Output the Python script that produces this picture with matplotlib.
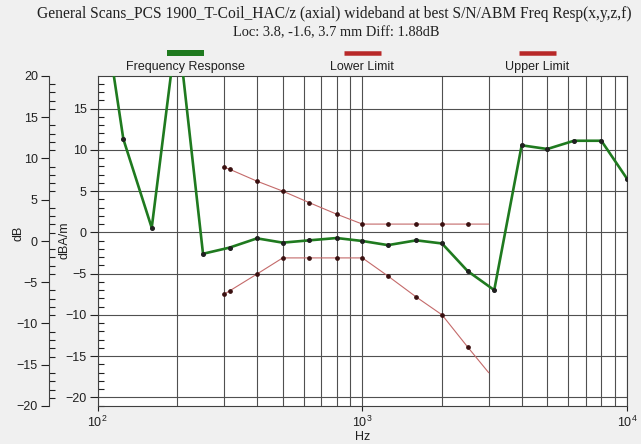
import matplotlib
matplotlib.use("Agg")
import matplotlib.pyplot as plt
from matplotlib.lines import Line2D
from matplotlib.ticker import MultipleLocator, LogLocator, FixedLocator, NullFormatter

plt.rcParams["font.family"] = ["Liberation Sans", "DejaVu Sans"]
plt.rcParams["mathtext.fontset"] = "custom"
plt.rcParams["mathtext.rm"] = "Liberation Sans"
plt.rcParams["mathtext.it"] = "Liberation Sans:italic"
plt.rcParams["mathtext.bf"] = "Liberation Sans:bold"

# ---- data ----
freqs = [100, 125, 160, 200, 250, 315, 400, 500, 630, 800, 1000, 1250, 1600,
         2000, 2500, 3150, 4000, 5000, 6300, 8000, 10000]
response = [32.0, 11.3, 0.55, 25.3, -2.6, -1.85, -0.73, -1.25, -0.97, -0.69, -1.05,
            -1.55, -0.97, -1.35, -4.7, -7.0, 10.55, 10.1, 11.1, 11.1, 6.5]

limit_freqs = [300, 315, 400, 500, 630, 800, 1000, 1250, 1600, 2000, 2500, 3000]
upper_limit = [7.9, 7.65, 6.2, 5.0, 3.6, 2.2, 1.0, 1.0, 1.0, 1.0, 1.0, 1.0]
lower_limit = [-7.5, -7.1, -5.05, -3.1, -3.1, -3.1, -3.1, -5.3, -7.85, -10.0, -13.9, -17.0]

legend_labels = ["Frequency Response", "Lower Limit", "Upper Limit"]
title = "General Scans_PCS 1900_T-Coil_HAC/z (axial) wideband at best S/N/ABM Freq Resp(x,y,z,f)"
subtitle = "Loc: 3.8, -1.6, 3.7 mm Diff: 1.88dB"

W, H = 641, 444
fig = plt.figure(figsize=(W / 100, H / 100), dpi=100)
fig.patch.set_facecolor("#f0f0f0")

L, R, T, B = 97.7, 627.0, 76.0, 406.0
ax = fig.add_axes([L / W, 1 - B / H, (R - L) / W, (B - T) / H])
ax.set_facecolor("white")

green = "#1f7a1f"
red_line = "#c46a6a"

ax.plot(freqs, response, color=green, lw=1.9, zorder=3,
        marker="o", ms=2.6, mfc="#202020", mec="#202020", solid_joinstyle="round")
mk = list(range(len(limit_freqs) - 1))
ax.plot(limit_freqs, upper_limit, color=red_line, lw=0.8, zorder=2,
        marker="o", ms=2.4, mfc="#3a1010", mec="#3a1010", markevery=mk)
ax.plot(limit_freqs, lower_limit, color=red_line, lw=0.8, zorder=2,
        marker="o", ms=2.4, mfc="#3a1010", mec="#3a1010", markevery=mk)

ax.set_xscale("log")
ax.set_xlim(100, 10000)
ax.set_ylim(-21.05, 18.95)

grid_c = "#505050"
ax.xaxis.set_major_locator(FixedLocator([100, 1000, 10000]))
ax.xaxis.set_minor_locator(LogLocator(base=10, subs=range(2, 10)))
ax.xaxis.set_minor_formatter(NullFormatter())
ax.grid(True, which="both", axis="x", color=grid_c, lw=0.8)
ax.yaxis.set_major_locator(MultipleLocator(5))
ax.yaxis.set_minor_locator(MultipleLocator(1))
ax.grid(True, which="major", axis="y", color=grid_c, lw=0.8)
ax.set_axisbelow(True)

fs = 9
ax.tick_params(axis="x", which="major", length=3.5, width=0.8, direction="out",
               labelsize=fs, pad=3, colors="#202020")
ax.tick_params(axis="x", which="minor", length=0)
ax.tick_params(axis="y", which="major", direction="out", length=6, width=0.8,
               labelsize=fs, pad=2, colors="#202020", labelcolor="#202020")
ax.tick_params(axis="y", which="minor", direction="in", length=4, width=0.8, color="#202020")
for s in ax.spines.values():
    s.set_color("#404040")
    s.set_linewidth(0.8)

ax.set_ylabel("dBA/m", fontsize=fs, color="#202020", va="center")
ax.yaxis.set_label_coords((64 - L) / (R - L), (B - 240) / (B - T))
ax.set_xlabel("Hz", fontsize=fs, color="#202020", va="center")
ax.xaxis.set_label_coords(0.5, -(437 - B) / (B - T))

# outer dB axis
ax2 = ax.twinx()
ax2.set_ylim(-20, 20)
ax2.yaxis.set_ticks_position("left")
ax2.yaxis.set_label_position("left")
ax2.spines["left"].set_position(("outward", (L - 49) * 0.72))
ax2.spines["left"].set_color("#404040")
ax2.spines["left"].set_linewidth(0.8)
for k in ("right", "top", "bottom"):
    ax2.spines[k].set_visible(False)
ax2.yaxis.set_major_locator(MultipleLocator(5))
ax2.yaxis.set_minor_locator(MultipleLocator(1))
ax2.tick_params(axis="y", which="major", direction="out", length=6, width=0.8,
                labelsize=fs, pad=2, colors="#202020")
ax2.tick_params(axis="y", which="minor", direction="in", length=4, width=0.8, color="#202020")
ax2.set_ylabel("dB", fontsize=fs, color="#202020", va="center")
ax2.yaxis.set_label_coords((18 - L) / (R - L), (B - 233) / (B - T))

# titles
fig.text(0.5 * (37 + 632) / W, 1 - 14 / H, title, ha="center", va="center",
         family="Liberation Serif", fontsize=11.2, color="#202020")
fig.text(336 / W, 1 - 33 / H, subtitle, ha="center", va="center",
         family="Liberation Serif", fontsize=10.4, color="#202020")

# legend (bar above label)
legend_specs = [(185.5, green, 6), (362, "#b82828", 4.5), (537, "#b82828", 4.5)]
for (cx, c, lwpx), lab in zip(legend_specs, legend_labels):
    fig.add_artist(Line2D([(cx - 18.5) / W, (cx + 18.5) / W], [1 - 53 / H, 1 - 53 / H],
                          transform=fig.transFigure, color=c, lw=lwpx * 0.72,
                          solid_capstyle="butt"))
    fig.text(cx / W, 1 - 67 / H, lab, ha="center", va="center", fontsize=fs,
             color="#202020")

fig.savefig("out.png", dpi=100, facecolor=fig.get_facecolor())
